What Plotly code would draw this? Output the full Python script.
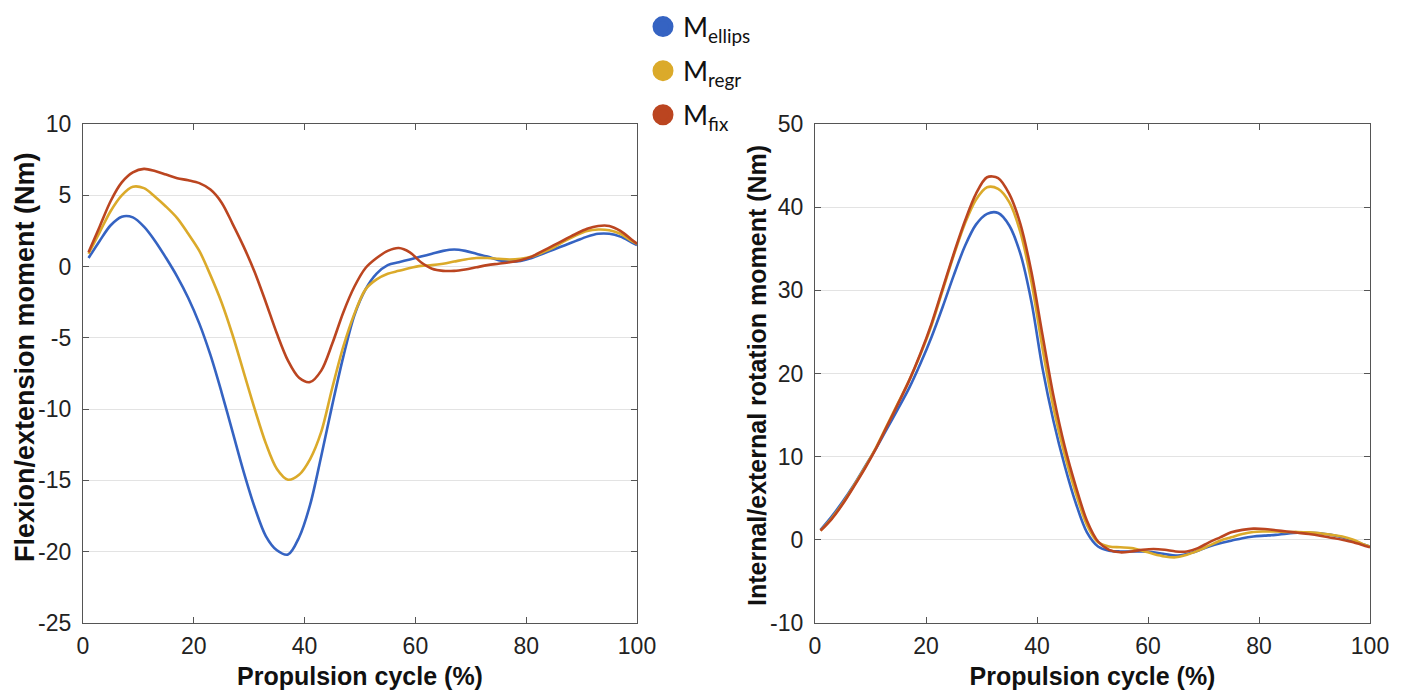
import plotly.graph_objects as go

# ---------------- data ----------------
cycle = [1, 3, 5, 7, 9, 11, 13, 15, 17, 19, 21, 23, 25, 27, 29, 31, 33, 35, 37, 39,
         41, 43, 45, 47, 49, 51, 53, 55, 57, 59, 61, 63, 65, 67, 69, 71, 73, 75, 77, 79,
         81, 83, 85, 87, 89, 91, 93, 95, 97, 99, 100]

# Flexion/extension moment (Nm)
flex_ellips = [0.6, 1.8, 2.9, 3.5, 3.45, 2.8, 1.8, 0.6, -0.7, -2.2, -4.0, -6.2, -8.8, -11.6, -14.4,
               -16.9, -18.9, -19.9, -20.2, -19.0, -16.7, -13.3, -9.7, -6.3, -3.4, -1.6, -0.5, 0.1,
               0.3, 0.5, 0.7, 0.9, 1.1, 1.2, 1.1, 0.9, 0.7, 0.45, 0.35, 0.4, 0.6, 0.9, 1.2, 1.5,
               1.8, 2.1, 2.3, 2.3, 2.1, 1.7, 1.5]
flex_regr = [0.9, 2.4, 3.9, 5.0, 5.6, 5.5, 4.9, 4.2, 3.4, 2.3, 1.1, -0.6, -2.5, -4.8, -7.4,
             -10.0, -12.4, -14.2, -14.95, -14.6, -13.5, -11.6, -8.5, -5.6, -3.3, -1.6, -0.9, -0.5,
             -0.3, -0.1, 0.05, 0.1, 0.2, 0.35, 0.5, 0.6, 0.6, 0.55, 0.5, 0.55, 0.7, 1.0, 1.35,
             1.8, 2.2, 2.5, 2.6, 2.55, 2.3, 1.8, 1.6]
flex_fix = [1.0, 2.8, 4.6, 5.9, 6.6, 6.85, 6.7, 6.45, 6.2, 6.05, 5.85, 5.4, 4.5, 3.0, 1.4,
            -0.4, -2.5, -4.7, -6.6, -7.8, -8.1, -7.3, -5.4, -3.2, -1.4, -0.1, 0.6, 1.1,
            1.3, 1.0, 0.3, -0.15, -0.3, -0.3, -0.2, -0.05, 0.1, 0.2, 0.3, 0.45, 0.7, 1.1, 1.5,
            1.9, 2.3, 2.65, 2.85, 2.85, 2.5, 1.9, 1.6]

# Internal/external rotation moment (Nm)
rot_ellips = [1.2, 2.8, 4.6, 6.6, 8.8, 11.0, 13.4, 15.8, 18.3, 21.2, 24.4, 28.0, 31.8, 35.3, 37.9,
              39.2, 39.3, 37.8, 34.4, 28.6, 20.6, 14.2, 8.9, 4.4, 0.9, -0.8, -1.3, -1.4,
              -1.4, -1.4, -1.5, -1.7, -1.9, -1.7, -1.3, -0.8, -0.4, -0.1, 0.2, 0.4, 0.5, 0.6, 0.75,
              0.85, 0.85, 0.8, 0.6, 0.3, -0.1, -0.6, -0.8]
rot_regr = [1.1, 2.6, 4.4, 6.5, 8.7, 11.1, 13.8, 16.5, 19.2, 22.3, 25.8, 30.0, 34.2, 38.0, 40.9,
            42.4, 42.2, 40.6, 37.0, 31.0, 23.0, 15.8, 10.2, 5.6, 1.8, -0.3, -0.8, -0.9,
            -1.0, -1.3, -1.7, -2.0, -2.1, -1.8, -1.3, -0.7, -0.1, 0.3, 0.7, 0.95, 1.0, 1.0, 0.95,
            0.95, 0.9, 0.8, 0.6, 0.4, 0.0, -0.6, -0.8]
rot_fix = [1.1, 2.5, 4.3, 6.4, 8.6, 11.0, 13.7, 16.4, 19.2, 22.4, 26.0, 30.2, 34.4, 38.3, 41.6,
           43.6, 43.5, 41.6, 38.0, 32.2, 24.6, 17.2, 11.2, 6.4, 2.3, -0.2, -1.2, -1.5,
           -1.4, -1.2, -1.1, -1.2, -1.4, -1.4, -1.0, -0.3, 0.3, 0.9, 1.2, 1.35, 1.3, 1.15, 1.0,
           0.85, 0.7, 0.5, 0.25, 0.0, -0.3, -0.7, -0.9]

series_names = ["M<sub>ellips</sub>", "M<sub>regr</sub>", "M<sub>fix</sub>"]
series_colors = ["#3563C2", "#DBAA2A", "#BB4520"]

left_series = [flex_ellips, flex_regr, flex_fix]
right_series = [rot_ellips, rot_regr, rot_fix]

x_ticks = [0, 20, 40, 60, 80, 100]
left_ticks = [-25, -20, -15, -10, -5, 0, 5, 10]
right_ticks = [-10, 0, 10, 20, 30, 40, 50]

x_title = "Propulsion cycle (%)"
left_title = "Flexion/extension moment (Nm)"
right_title = "Internal/external rotation moment (Nm)"

# ---------------- figure ----------------
# page has an 8px body margin; figure sized so it fits the 1406x693 window
OFF = 8
W, H = 1398, 685


def px_x(p):
    return (p - OFF) / W


def px_y(p):
    return 1 - (p - OFF) / H


fig = go.Figure()

for vals, col in zip(left_series, series_colors):
    fig.add_trace(go.Scatter(x=cycle, y=vals, mode="lines",
                             line=dict(color=col, width=2.6, shape="spline", smoothing=0.9),
                             showlegend=False, xaxis="x", yaxis="y", hoverinfo="skip"))
for vals, col in zip(right_series, series_colors):
    fig.add_trace(go.Scatter(x=cycle, y=vals, mode="lines",
                             line=dict(color=col, width=2.6, shape="spline", smoothing=0.9),
                             showlegend=False, xaxis="x2", yaxis="y2", hoverinfo="skip"))
for i, (nm, col) in enumerate(zip(series_names, series_colors)):
    fig.add_trace(go.Scatter(x=[None], y=[None], mode="markers", name=nm,
                             legendgroup="g%d" % i,
                             marker=dict(size=16, color=col, line=dict(color=col, width=5)),
                             xaxis="x", yaxis="y"))

ydom = [px_y(623), px_y(124)]
tickfont = dict(family="Liberation Sans, Arial, sans-serif", size=23, color="#222222")
titlefont = dict(family="Liberation Sans, Arial, sans-serif", size=25, color="#111111")


def xaxis_cfg(dom, anchor):
    return dict(domain=dom, anchor=anchor, range=[0, 100], tickvals=x_ticks,
                ticktext=[str(v) for v in x_ticks],
                ticks="inside", ticklen=6, tickcolor="#555555", showline=True,
                linecolor="#555555", linewidth=1.2, mirror="ticks", showgrid=False,
                zeroline=False, tickfont=tickfont, ticklabelstandoff=2,
                title=dict(text="<b>" + x_title + "</b>", font=titlefont, standoff=9))


def yaxis_cfg(rng, ticks, anchor):
    return dict(domain=ydom, anchor=anchor, range=rng, tickvals=ticks,
                ticktext=[str(v) for v in ticks],
                ticks="inside", ticklen=6, tickcolor="#555555", showline=True,
                linecolor="#555555", linewidth=1.2, mirror="ticks", showgrid=True,
                gridcolor="#e3e3e3", gridwidth=1.2, zeroline=False, tickfont=tickfont,
                ticklabelstandoff=6)


fig.update_layout(
    width=W, height=H,
    margin=dict(l=0, r=0, t=0, b=0, autoexpand=False),
    paper_bgcolor="white", plot_bgcolor="white",
    xaxis=xaxis_cfg([px_x(83), px_x(637)], "y"),
    yaxis=yaxis_cfg([-25, 10], left_ticks, "x"),
    xaxis2=xaxis_cfg([px_x(815), px_x(1370)], "y2"),
    yaxis2=yaxis_cfg([-10, 50], right_ticks, "x2"),
    legend=dict(x=px_x(643), y=1.008, xanchor="left", yanchor="top",
                bgcolor="rgba(0,0,0,0)", tracegroupgap=6,
                font=dict(family="Lato, Open Sans, sans-serif", size=27, color="#111111")),
    showlegend=True,
    annotations=[
        dict(text="<b>" + left_title + "</b>", textangle=-90, xref="paper", yref="paper",
             x=px_x(25), y=px_y(357), xanchor="center", yanchor="middle", showarrow=False,
             font=dict(titlefont, size=27)),
        dict(text="<b>" + right_title + "</b>", textangle=-90, xref="paper", yref="paper",
             x=px_x(757), y=px_y(376), xanchor="center", yanchor="middle", showarrow=False,
             font=dict(titlefont, size=25)),
    ],
)

fig.write_html("out.html")
